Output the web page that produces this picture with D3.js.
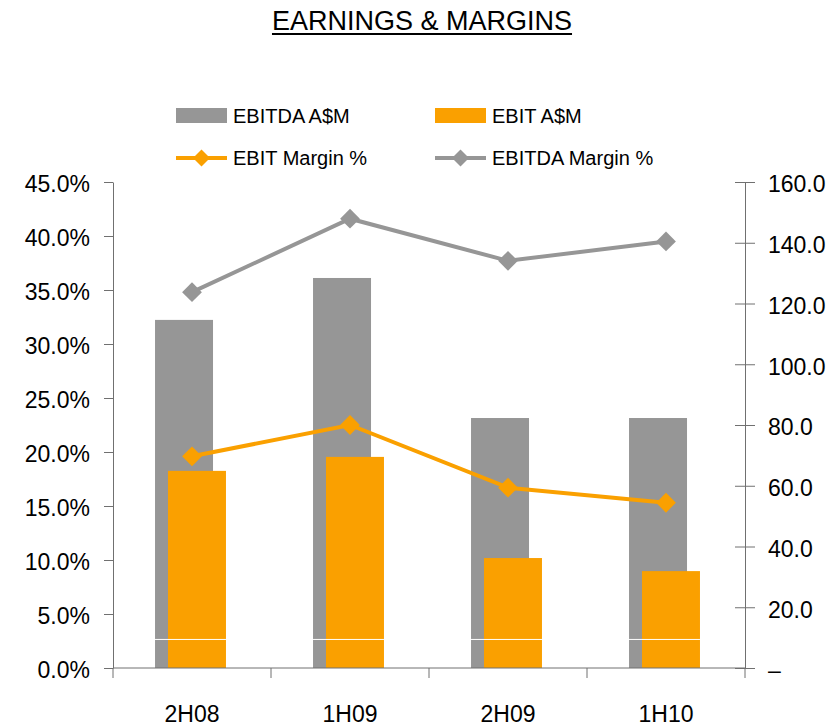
<!DOCTYPE html>
<html>
<head>
<meta charset="utf-8">
<script src="https://cdn.jsdelivr.net/npm/d3@7"></script>
<style>
  body { margin: 0; background: #fff; }
  svg text { font-family: "Liberation Sans", Arial, sans-serif; fill: #000; }
</style>
</head>
<body>
<svg id="chart" width="838" height="727"></svg>
<script>
// data
const categories = ["2H08", "1H09", "2H09", "1H10"];
const ebitda = [114.6, 128.4, 82.3, 82.3];        // A$M, right axis
const ebit = [64.9, 69.5, 36.2, 31.9];            // A$M, right axis
const ebitMargin = [19.6, 22.5, 16.7, 15.3];      // %, left axis
const ebitdaMargin = [34.8, 41.6, 37.7, 39.5];    // %, left axis
const leftTicks = [0, 5, 10, 15, 20, 25, 30, 35, 40, 45];
const rightTicks = [0, 20, 40, 60, 80, 100, 120, 140, 160];

const grey = "#969696"
const orange = "#faa000"
const axisColor = "#707070"

const svg = d3.select("#chart")
const plotLeft = 113, plotRight = 745, plotTop = 182, plotBottom = 668

const x = d3.scaleBand().domain(categories).range([plotLeft, plotRight]).padding(0)
const yL = d3.scaleLinear().domain([0, 45]).range([plotBottom, plotTop])
const yR = d3.scaleLinear().domain([0, 160]).range([plotBottom, plotTop])
const bw = x.bandwidth()

// title
const title = svg.append("text")
  .attr("x", 422).attr("y", 30)
  .attr("text-anchor", "middle")
  .style("font-size", "27px")
  .text("EARNINGS & MARGINS")
const tw = title.node().getComputedTextLength()
svg.append("line")
  .attr("x1", 422 - tw / 2).attr("x2", 422 + tw / 2)
  .attr("y1", 34).attr("y2", 34)
  .attr("stroke", "#000").attr("stroke-width", 2)

// bars
svg.append("g").selectAll("rect")
  .data(ebitda)
  .join("rect")
  .attr("x", (d, i) => x(categories[i]) + bw * 0.266)
  .attr("width", bw * 0.367)
  .attr("y", d => yR(d))
  .attr("height", d => yR(0) - yR(d))
  .attr("fill", grey)

svg.append("g").selectAll("rect")
  .data(ebit)
  .join("rect")
  .attr("x", (d, i) => x(categories[i]) + bw * 0.348)
  .attr("width", bw * 0.367)
  .attr("y", d => yR(d))
  .attr("height", d => yR(0) - yR(d))
  .attr("fill", orange)

// thin white rule that crosses the bars in the original
svg.append("g").selectAll("line")
  .data(categories)
  .join("line")
  .attr("x1", d => x(d) + bw * 0.266)
  .attr("x2", d => x(d) + bw * 0.715)
  .attr("y1", yR(9.4)).attr("y2", yR(9.4))
  .attr("stroke", "#fff").attr("stroke-width", 1)

// axes
const gL = svg.append("g")
  .attr("transform", `translate(${plotLeft},0)`)
  .call(d3.axisLeft(yL).tickValues(leftTicks)
    .tickFormat(d => d.toFixed(1) + "%")
    .tickSize(9).tickSizeOuter(0).tickPadding(14))
gL.selectAll("text").style("font-size", "23px").attr("dy", "0.43em")

const gR = svg.append("g")
  .attr("transform", `translate(${plotRight},0)`)
  .call(d3.axisRight(yR).tickValues(rightTicks)
    .tickFormat(d => d === 0 ? "–" : d.toFixed(1))
    .tickSize(10).tickSizeOuter(0).tickPadding(13))
gR.selectAll(".tick line").attr("x1", -10)
gR.selectAll("text").style("font-size", "23px").attr("dy", "0.43em")

const gX = svg.append("g")
  .attr("transform", `translate(0,${plotBottom})`)
  .call(d3.axisBottom(x).tickSize(0).tickPadding(38))
gX.select(".domain").attr("d", `M${plotLeft},0H${plotRight}`)
gX.selectAll("text").style("font-size", "23px")

const edges = categories.map(d => x(d)).concat(x.range()[1])
gX.selectAll(".edge")
  .data(edges)
  .join("line")
  .attr("class", "edge")
  .attr("x1", d => d).attr("x2", d => d)
  .attr("y1", 0).attr("y2", 10)
  .attr("stroke", axisColor)

svg.selectAll(".domain, .tick line").attr("stroke", axisColor)

// lines
const diamond = d3.symbol().type(d3.symbolSquare)

function drawSeries(values, color) {
  const line = d3.line()
    .x((d, i) => x(categories[i]) + bw / 2)
    .y(d => yL(d))
  svg.append("path")
    .datum(values)
    .attr("d", line)
    .attr("fill", "none")
    .attr("stroke", color)
    .attr("stroke-width", 4)
  svg.append("g").selectAll("path")
    .data(values)
    .join("path")
    .attr("d", diamond.size(196))
    .attr("transform", (d, i) => `translate(${x(categories[i]) + bw / 2},${yL(d)}) rotate(45)`)
    .attr("fill", color)
}
drawSeries(ebitdaMargin, grey)
drawSeries(ebitMargin, orange)

// legend
const legend = svg.append("g")
const items = [
  { label: "EBITDA A$M", color: grey, kind: "bar", x: 176, y: 116 },
  { label: "EBIT A$M", color: orange, kind: "bar", x: 435, y: 116 },
  { label: "EBIT Margin %", color: orange, kind: "line", x: 176, y: 158 },
  { label: "EBITDA Margin %", color: grey, kind: "line", x: 435, y: 158 }
]
items.forEach(it => {
  const g = legend.append("g").attr("transform", `translate(${it.x},${it.y})`)
  if (it.kind === "bar") {
    g.append("rect").attr("x", 0).attr("y", -8).attr("width", 51).attr("height", 15).attr("fill", it.color)
  } else {
    g.append("line").attr("x1", 0).attr("x2", 51).attr("y1", 0).attr("y2", 0)
      .attr("stroke", it.color).attr("stroke-width", 4)
    g.append("path").attr("d", diamond.size(144))
      .attr("transform", "translate(25.5,0) rotate(45)").attr("fill", it.color)
  }
  g.append("text").attr("x", 57).attr("y", 7)
    .style("font-size", "20px")
    .text(it.label)
})
</script>
</body>
</html>
